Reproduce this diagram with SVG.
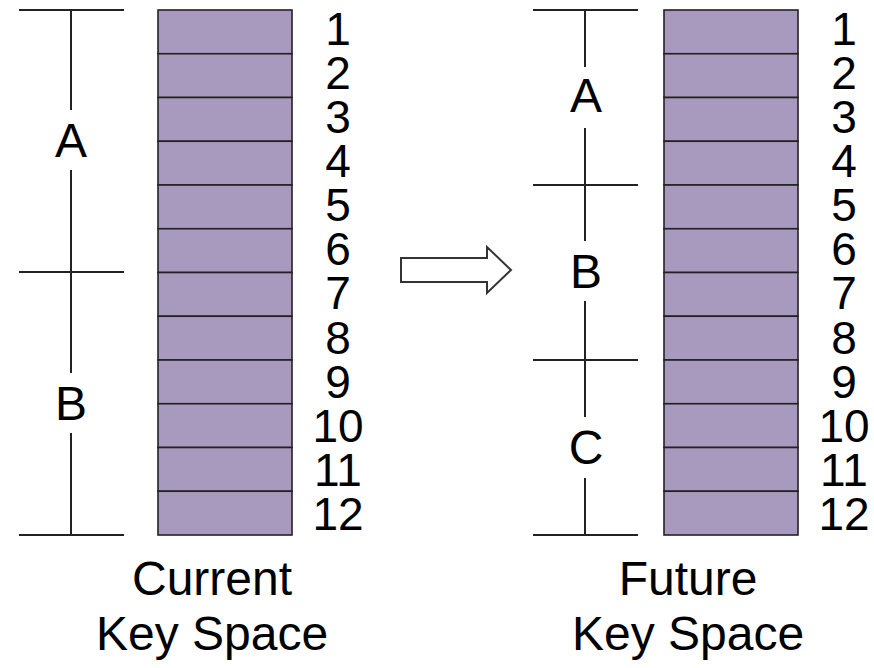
<svg xmlns="http://www.w3.org/2000/svg" width="874" height="668" viewBox="0 0 874 668">
<style>
.ln{stroke:#222;stroke-width:2;fill:none}
.cell{fill:#A899BF;stroke:#222;stroke-width:1.6}
.t{font-family:"Liberation Sans",Arial,sans-serif;fill:#000;text-anchor:middle}
.num{font-size:46px}
.lab{font-size:48px}
</style>
<defs>
<g id="stack">
<rect class="cell" x="0" y="0" width="134" height="43.75"/>
<rect class="cell" x="0" y="43.75" width="134" height="43.75"/>
<rect class="cell" x="0" y="87.5" width="134" height="43.75"/>
<rect class="cell" x="0" y="131.25" width="134" height="43.75"/>
<rect class="cell" x="0" y="175" width="134" height="43.75"/>
<rect class="cell" x="0" y="218.75" width="134" height="43.75"/>
<rect class="cell" x="0" y="262.5" width="134" height="43.75"/>
<rect class="cell" x="0" y="306.25" width="134" height="43.75"/>
<rect class="cell" x="0" y="350" width="134" height="43.75"/>
<rect class="cell" x="0" y="393.75" width="134" height="43.75"/>
<rect class="cell" x="0" y="437.5" width="134" height="43.75"/>
<rect class="cell" x="0" y="481.25" width="134" height="43.75"/>
<g class="t num">
<text x="180" y="35">1</text>
<text x="180" y="79">2</text>
<text x="180" y="123">3</text>
<text x="180" y="167">4</text>
<text x="180" y="211">5</text>
<text x="180" y="255">6</text>
<text x="180" y="299">7</text>
<text x="180" y="344">8</text>
<text x="180" y="388">9</text>
<text x="180" y="432">10</text>
<text x="180" y="476">11</text>
<text x="180" y="520">12</text>
</g>
</g>
</defs>

<g id="current">
<g id="current-keys"><use href="#stack" x="158" y="10"/></g>
<g id="current-ranges">
<line class="ln" x1="19" y1="10" x2="124" y2="10"/>
<line class="ln" x1="19" y1="272" x2="124" y2="272"/>
<line class="ln" x1="19" y1="535" x2="124" y2="535"/>
<line class="ln" x1="71" y1="10" x2="71" y2="110"/>
<line class="ln" x1="71" y1="170" x2="71" y2="373"/>
<line class="ln" x1="71" y1="433" x2="71" y2="535"/>
<text class="t lab" x="71" y="157">A</text>
<text class="t lab" x="71" y="420">B</text>
</g>
<text class="t lab" x="212" y="595">Current</text>
<text class="t lab" x="212" y="650">Key Space</text>
</g>

<g id="connectors">
<path d="M401,258 H487 V247 L511,270 L487,293 V282 H401 Z" fill="#fff" stroke="#333" stroke-width="2" stroke-linejoin="miter"/>
</g>

<g id="future">
<g id="future-keys"><use href="#stack" x="664" y="10"/></g>
<g id="future-ranges">
<line class="ln" x1="533" y1="10" x2="638" y2="10"/>
<line class="ln" x1="533" y1="185" x2="638" y2="185"/>
<line class="ln" x1="533" y1="360" x2="638" y2="360"/>
<line class="ln" x1="533" y1="535" x2="638" y2="535"/>
<line class="ln" x1="585" y1="10" x2="585" y2="67"/>
<line class="ln" x1="585" y1="128" x2="585" y2="241"/>
<line class="ln" x1="585" y1="301" x2="585" y2="417"/>
<line class="ln" x1="585" y1="478" x2="585" y2="535"/>
<text class="t lab" x="586" y="112">A</text>
<text class="t lab" x="586" y="288">B</text>
<text class="t lab" x="586" y="464">C</text>
</g>
<text class="t lab" x="688" y="595">Future</text>
<text class="t lab" x="688" y="650">Key Space</text>
</g>
</svg>
